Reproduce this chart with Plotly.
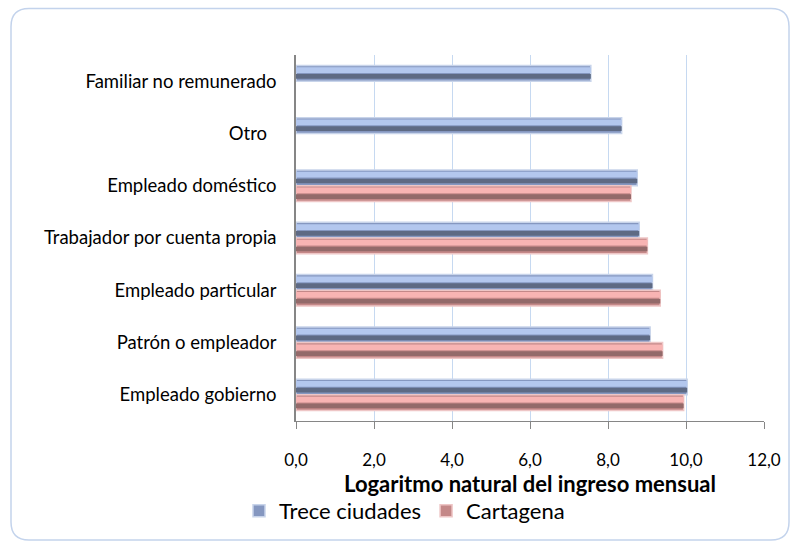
import plotly.graph_objects as go

# ---- data ----
categories = [
    "Empleado gobierno",
    "Patrón o empleador",
    "Empleado particular",
    "Trabajador por cuenta propia",
    "Empleado doméstico",
    "Otro\u00a0\u00a0",
    "Familiar no remunerado",
]
trece_ciudades = [10.03, 9.08, 9.14, 8.80, 8.75, 8.35, 7.56]
cartagena = [9.94, 9.40, 9.34, 9.01, 8.59, None, None]
x_ticks = [0, 2, 4, 6, 8, 10, 12]
series_names = ["Trece ciudades", "Cartagena"]

W, H = 793, 544
ML, MR, MT, MB = 296, 29, 55, 123
FONT = "Lato, Carlito, Calibri, sans-serif"

fig = go.Figure()

styles = [
    (series_names[0], trece_ciudades, 0.0, "#8597c0", "#c8d4ea", "#b3c7ee", "#5e6a84", 0.155, 0.045),
    (series_names[1], cartagena, -0.30, "#c48888", "#eec6c6", "#f8b4b3", "#936a6a", -0.145, -0.255),
]
for name, vals, off, main_c, line_c, up_c, low_c, up_off, low_off in styles:
    fig.add_trace(go.Bar(
        y=categories, x=vals, orientation="h", name=name,
        offset=off, width=0.30,
        marker=dict(color=main_c, line=dict(color=line_c, width=1.5)),
        legendgroup=name, showlegend=True, hoverinfo="x+y",
    ))
    fig.add_trace(go.Bar(
        y=categories, x=vals, orientation="h", name=name,
        offset=up_off, width=0.11,
        marker=dict(color=up_c, line=dict(width=0)),
        legendgroup=name, showlegend=False, hoverinfo="skip",
    ))
    fig.add_trace(go.Bar(
        y=categories, x=vals, orientation="h", name=name,
        offset=low_off, width=0.09,
        marker=dict(color=low_c, line=dict(width=0)),
        legendgroup=name, showlegend=False, hoverinfo="skip",
    ))

# rounded border of the chart area (pixel -> paper)
pw, ph = W - ML - MR, H - MT - MB
def px(x):
    return (x - ML) / pw
def py(y):
    return (H - MB - y) / ph
x0, x1, y0, y1, r = 11, 789, 8.5, 540, 18
path = (
    f"M {px(x0 + r)},{py(y0)} L {px(x1 - r)},{py(y0)} "
    f"Q {px(x1)},{py(y0)} {px(x1)},{py(y0 + r)} "
    f"L {px(x1)},{py(y1 - r)} Q {px(x1)},{py(y1)} {px(x1 - r)},{py(y1)} "
    f"L {px(x0 + r)},{py(y1)} Q {px(x0)},{py(y1)} {px(x0)},{py(y1 - r)} "
    f"L {px(x0)},{py(y0 + r)} Q {px(x0)},{py(y0)} {px(x0 + r)},{py(y0)} Z"
)
fig.add_shape(type="path", path=path, xref="paper", yref="paper",
              line=dict(color="#c3d3ec", width=1.5), layer="below")

fig.update_layout(
    width=W, height=H,
    margin=dict(l=ML, r=MR, t=MT, b=MB),
    barmode="overlay",
    paper_bgcolor="white", plot_bgcolor="white",
    font=dict(family=FONT, size=18, color="#000000"),
    separators=",.",
    showlegend=True,
    legend=dict(orientation="h", x=px(239), xanchor="left", y=py(511), yanchor="middle",
                font=dict(size=22), traceorder="normal", itemclick=False,
                bgcolor="rgba(0,0,0,0)"),
    xaxis=dict(
        range=[0, 12], tickvals=x_ticks, tickformat=".1f",
        showgrid=True, gridcolor="#c6d9f1", gridwidth=1,
        showline=True, linecolor="#868686", linewidth=1,
        ticks="outside", ticklen=7, tickcolor="#868686",
        tickfont=dict(size=17), ticklabelstandoff=17,
        zeroline=False,
        title=dict(text="<b>Logaritmo natural del ingreso mensual</b>",
                   font=dict(size=22), standoff=3),
    ),
    yaxis=dict(
        categoryorder="array", categoryarray=categories,
        showline=True, linecolor="#868686", linewidth=1.5,
        showgrid=False, ticks="", tickfont=dict(size=18.5),
        ticklabelstandoff=14,
    ),
)

fig.write_html(
    "out.html",
    config={"displayModeBar": False},
    post_script="document.body.style.margin='0px';document.body.style.overflow='hidden';",
)
